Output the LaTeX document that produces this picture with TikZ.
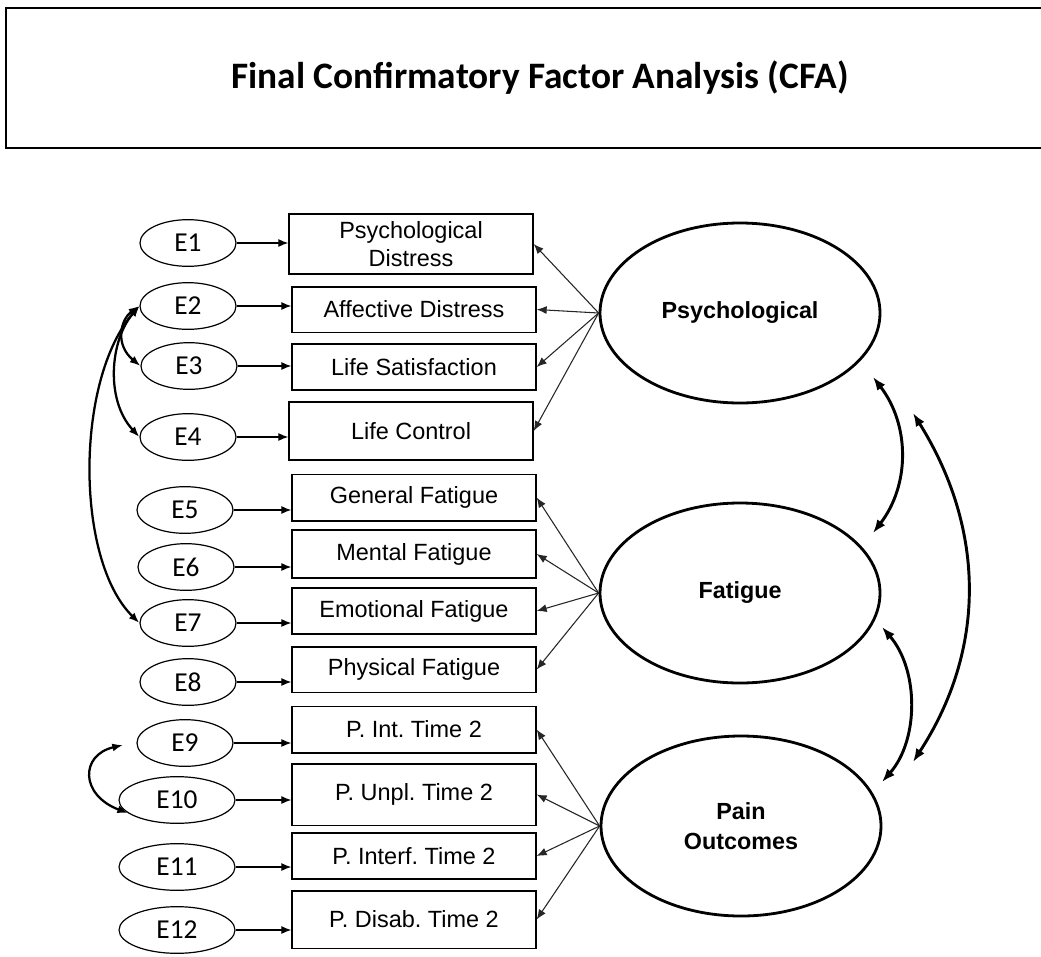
\documentclass[tikz,border=0pt]{standalone}
\usepackage{fontspec}
\setmainfont{Liberation Sans}
\newfontfamily\calibri{Carlito}
\usetikzlibrary{shapes.geometric,arrows.meta}
\frenchspacing

\begin{document}
\begin{tikzpicture}[x=0.75pt,y=-0.75pt,
    err/.style={draw,ellipse,line width=0.9pt,inner sep=0pt,minimum width=72pt,minimum height=35pt,
      font=\calibri\fontsize{20.5}{22}\selectfont},
    ind/.style={draw,rectangle,line width=1pt,inner sep=0pt,minimum width=183pt,align=center,
      font=\fontsize{17.6}{21}\selectfont},
    factor/.style={draw,ellipse,line width=2.1pt,inner sep=0pt,minimum width=210pt,minimum height=135pt,
      align=center,font=\bfseries\fontsize{17.5}{22}\selectfont},
    load/.style={-{Latex[length=7.5pt,width=6pt]},line width=0.8pt,black!85},
    reg/.style={-{Latex[length=7.5pt,width=6pt]},line width=0.9pt},
    cov/.style={{Latex[length=10pt,width=7.5pt]}-{Latex[length=10pt,width=7.5pt]},line width=2.2pt},
    ecov/.style={{Latex[length=8pt,width=6pt]}-{Latex[length=8pt,width=6pt]},line width=1.7pt}]
    \useasboundingbox (0,0) rectangle (1041,956);

    % title
    \draw[line width=1pt] (1050,8) -| (6,148) -- (1050,148);
    \node (title) at (540,78) {\calibri\bfseries\fontsize{28}{32}\selectfont Final Confirmatory Factor Analysis (CFA)};

    % error terms
    \node[err] (E1) at (188,243) {E1};
    \node[err] (E2) at (188,306) {E2};
    \node[err] (E3) at (189,366) {E3};
    \node[err] (E4) at (188,437) {E4};
    \node[err] (E5) at (185,510) {E5};
    \node[err] (E6) at (186,567) {E6};
    \node[err] (E7) at (188,623) {E7};
    \node[err] (E8) at (188,682) {E8};
    \node[err] (E9) at (185,743) {E9};
    \node[err,minimum width=87pt] (E10) at (177,800) {E10};
    \node[err,minimum width=87pt] (E11) at (177,867) {E11};
    \node[err,minimum width=87pt] (E12) at (177,930) {E12};

    % indicators
    \node[ind,minimum height=45pt] (PD) at (411,244) {Psychological\\Distress};
    \node[ind,minimum height=34pt] (AD) at (414,309.5) {Affective Distress};
    \node[ind,minimum height=34.5pt] (LS) at (414,367) {Life Satisfaction};
    \node[ind,minimum height=43.5pt] (LC) at (411,431) {Life Control};
    \node[ind,minimum height=35pt] (GF) at (414,497.5) {General Fatigue};
    \node[ind,minimum height=36pt] (MF) at (414,554) {Mental Fatigue};
    \node[ind,minimum height=34.5pt] (EF) at (414,611) {Emotional Fatigue};
    \node[ind,minimum height=34pt] (PF) at (414,669.5) {Physical Fatigue};
    \node[ind,minimum height=35pt] (PI) at (414,729.5) {P. Int. Time 2};
    \node[ind,minimum height=46pt] (PU) at (414,794.5) {P. Unpl. Time 2};
    \node[ind,minimum height=34.5pt] (PT) at (414,856) {P. Interf. Time 2};
    \node[ind,minimum height=43pt] (PS) at (414,919.5) {P. Disab. Time 2};

    % latent factors
    \node[factor] (Psych) at (740,313) {Psychological};
    \node[factor] (Fat) at (740,593) {Fatigue};
    \node[factor] (Pain) at (741,826) {Pain\\Outcomes};

    \foreach \e/\b in {E1/PD,E2/AD,E3/LS,E4/LC,E5/GF,E6/MF,E7/EF,E8/PF,E9/PI,E10/PU,E11/PT,E12/PS}
        \draw[reg] (\e.east) -- (\e.east -| \b.west);

    \foreach \b in {PD,AD,LS,LC}
        \draw[load] (Psych.west) -- (\b.east);
    \foreach \b in {GF,MF,EF,PF}
        \draw[load] (Fat.west) -- (\b.east);
    \foreach \b in {PI,PU,PT,PS}
        \draw[load] (Pain.west) -- (\b.east);

    % correlated errors
    \draw[ecov] (E2.west) .. controls (120,320) and (115,345) .. (E3.west);
    \draw[ecov] (E2.west) .. controls (110,340) and (105,400) .. (E4.west);
    \draw[ecov] (E2.west) .. controls (75,380) and (75,560) .. (E7.west);
    \coordinate (e9in) at (123,745);
    \draw[ecov] (e9in) .. controls (80,755) and (80,795) .. (E10.195);

    % factor covariances
    \coordinate (pf1) at (873,377);
    \coordinate (pf2) at (873,533);
    \coordinate (fp1) at (882,627);
    \coordinate (fp2) at (882,782);
    \coordinate (pp1) at (913,413);
    \coordinate (pp2) at (913,762);
    \draw[cov] (pf1) .. controls (910,425) and (910,485) .. (pf2);
    \draw[cov] (fp1) .. controls (919,670) and (919,740) .. (fp2);
    \draw[cov] (pp1) .. controls (986,530) and (986,650) .. (pp2);
\end{tikzpicture}
\end{document}
